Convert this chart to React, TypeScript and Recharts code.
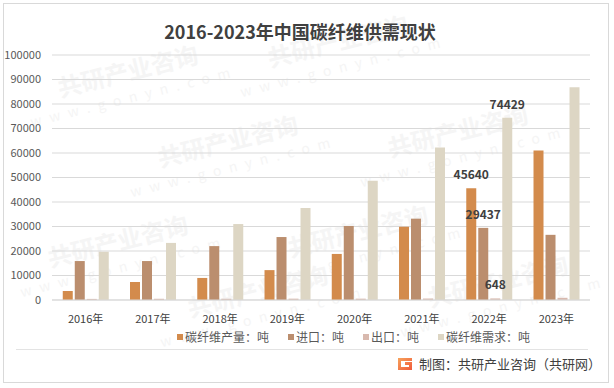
import { BarChart, Bar, XAxis, YAxis, CartesianGrid, LabelList } from 'recharts';

const years = ['2016年', '2017年', '2018年', '2019年', '2020年', '2021年', '2022年', '2023年'];
const production = [3700, 7350, 9000, 12200, 18800, 29900, 45640, 61000];
const imports = [15900, 15900, 22000, 25700, 30200, 33200, 29437, 26600];
const exports = [450, 500, 500, 550, 550, 600, 648, 900];
const demand = [19700, 23300, 31000, 37600, 48700, 62200, 74429, 86800];
const yTicks = [0, 10000, 20000, 30000, 40000, 50000, 60000, 70000, 80000, 90000, 100000];

const series = [
  { key: 'production', name: '碳纤维产量：吨', color: '#D38B4C' },
  { key: 'imports', name: '进口：吨', color: '#BB8E6E' },
  { key: 'exports', name: '出口：吨', color: '#D8B9AE' },
  { key: 'demand', name: '碳纤维需求：吨', color: '#DDD6C4' },
];

const data = years.map((year, i) => ({
  year,
  production: production[i],
  imports: imports[i],
  exports: exports[i],
  demand: demand[i],
}));

const font = '"Noto Sans CJK SC", "Noto Sans", sans-serif';
const labelYear = 6; // only 2022 has value labels

const ValueLabel = (props: any) => {
  const { x, y, width, value, index } = props;
  if (index !== labelYear) return null;
  return (
    <text x={x + width / 2} y={y - 9} textAnchor="middle" fill="#404040" fontSize={12} fontWeight="bold" fontFamily={font}>
      {value}
    </text>
  );
};

// faint site watermark, kept inside the frame
const watermarks = [
  [130, 80], [340, 50], [230, 150], [460, 140], [120, 250], [360, 240], [500, 290], [260, 300],
];

export default function App() {
  return (
    <div style={{ position: 'absolute', left: 0, top: 0, width: 614, height: 388, background: '#fff', fontFamily: font }}>
      <div style={{ position: 'absolute', left: 3, top: 3, width: 604, height: 378, border: '1px solid #D9D9D9' }} />
      <svg width={614} height={388} style={{ position: 'absolute', left: 0, top: 0 }}>
        {watermarks.map(([wx, wy], i) => (
          <g key={i} transform={`translate(${wx},${wy}) rotate(-14)`} fill="#F5F5F5" fontFamily={font}>
            <text x={0} y={0} textAnchor="middle" fontSize={24} fontWeight="bold">共研产业咨询</text>
            <text x={0} y={22} textAnchor="middle" fontSize={14} letterSpacing={8}>www.gonyn.com</text>
          </g>
        ))}
      </svg>
      <div style={{ position: 'absolute', left: 0, top: 18, width: 600, textAlign: 'center', fontSize: 18, fontWeight: 'bold', color: '#404040' }}>
        2016-2023年中国碳纤维供需现状
      </div>
      <div style={{ position: 'absolute', left: 0, top: 0 }}>
        <BarChart width={614} height={388} data={data} margin={{ top: 55, right: 24, bottom: 58, left: 0 }} barCategoryGap="16%" barGap={2}>
          <CartesianGrid vertical={false} stroke="#D9D9D9" />
          <XAxis
            dataKey="year"
            height={30}
            axisLine={{ stroke: '#D9D9D9' }}
            tickLine={false}
            tick={{ fill: '#404040', fontSize: 11, fontFamily: font }}
            tickMargin={9}
          />
          <YAxis
            width={52}
            domain={[0, 100000]}
            ticks={yTicks}
            axisLine={false}
            tickLine={false}
            tickSize={0}
            tickMargin={11}
            tick={{ fill: '#595959', fontSize: 11, fontFamily: font }}
          />
          {series.map((s) => (
            <Bar key={s.key} dataKey={s.key} name={s.name} fill={s.color} isAnimationActive={false}>
              <LabelList dataKey={s.key} content={<ValueLabel />} />
            </Bar>
          ))}
        </BarChart>
      </div>
      <div style={{ position: 'absolute', left: 177, top: 328, display: 'flex', alignItems: 'center', fontSize: 12, color: '#595959', whiteSpace: 'nowrap' }}>
        {series.map((s) => (
          <div key={s.key} style={{ display: 'flex', alignItems: 'center', marginRight: 19 }}>
            <span style={{ width: 6, height: 6, background: s.color, marginRight: 2, display: 'inline-block' }} />
            <span>{s.name}</span>
          </div>
        ))}
      </div>
      <div style={{ position: 'absolute', left: 16, top: 349, width: 572, height: 1, background: '#E3E3E3' }} />
      <svg width={16} height={16} style={{ position: 'absolute', left: 397, top: 355 }}>
        <defs>
          <linearGradient id="logoGrad" x1="0" y1="0" x2="1" y2="1">
            <stop offset="0%" stopColor="#F7A35C" />
            <stop offset="100%" stopColor="#F05A3A" />
          </linearGradient>
        </defs>
        <path d="M1 3 h14 v3 h-11 v6 h8 v-2 h-4 v-3 h7 v8 h-14 z" fill="url(#logoGrad)" />
      </svg>
      <div style={{ position: 'absolute', left: 419, top: 354, fontSize: 13, color: '#404040', whiteSpace: 'nowrap' }}>
        制图：共研产业咨询（共研网）
      </div>
    </div>
  );
}
